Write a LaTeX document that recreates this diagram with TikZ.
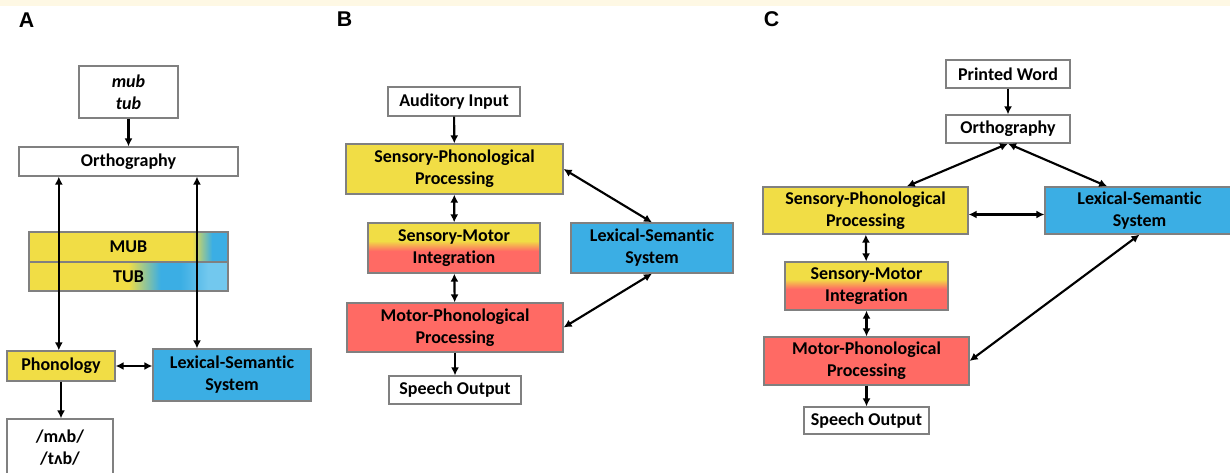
\documentclass[tikz,border=0pt]{standalone}
\usepackage{fontspec}
\setmainfont{Carlito}[Ligatures=NoCommon]
\newfontfamily\panelfont{Liberation Sans}
\usetikzlibrary{arrows.meta,positioning,calc}
\definecolor{BoxYellow}{RGB}{241,221,69}
\definecolor{BoxBlue}{RGB}{59,174,228}
\definecolor{BoxRed}{RGB}{255,106,100}
\definecolor{PaleBlue}{RGB}{114,200,238}
\definecolor{EdgeGray}{RGB}{128,128,128}
\definecolor{StripCream}{RGB}{254,248,228}
\pgfdeclareverticalshading{smiShade}{100bp}{color(0bp)=(BoxRed); color(47bp)=(BoxRed);
  color(57bp)=(BoxYellow); color(100bp)=(BoxYellow)}
\pgfdeclarehorizontalshading{mubShade}{100bp}{color(0bp)=(BoxYellow); color(66bp)=(BoxYellow);
  color(71bp)=(BoxBlue); color(100bp)=(BoxBlue)}
\pgfdeclarehorizontalshading{tubShade}{100bp}{color(0bp)=(BoxYellow); color(50bp)=(BoxYellow);
  color(58bp)=(BoxBlue); color(63bp)=(BoxBlue); color(70bp)=(PaleBlue); color(100bp)=(PaleBlue)}
\tikzset{
  box/.style={draw=EdgeGray,line width=0.9pt,fill=white,inner sep=0pt,align=center,
    font=\fontsize{13.5}{16.5}\selectfont\bfseries},
  yellowbox/.style={box,fill=BoxYellow},
  bluebox/.style={box,fill=BoxBlue},
  redbox/.style={box,fill=BoxRed},
  mixbox/.style={box,shade,shading=smiShade},
  boxsize/.style 2 args={minimum width=#1*0.75pt,minimum height=#2*0.75pt},
  panel/.style={font=\panelfont\bfseries\fontsize{16}{16}\selectfont},
  arrow/.style={-{Latex[length=6pt,width=6pt]},line width=1.6pt},
  dblarrow/.style={{Latex[length=6pt,width=6pt]}-{Latex[length=6pt,width=6pt]},line width=1.6pt}
}

\begin{document}
\begin{tikzpicture}[x=0.75pt,y=-0.75pt]
  \useasboundingbox (0,0) rectangle (1230,473);
  \fill[StripCream] (0,0) rectangle (1230,6);

  % panel A
  \node[panel] (labA) at (26.5,20.5) {A};
  \node[box,boxsize={99}{52}] (wordsA) at (128.5,92) {\textit{mub}\\\textit{tub}};
  \node[box,boxsize={219}{29}] (orthA) at (128.5,161.5) {Orthography};
  \node[box,shade,shading=mubShade,boxsize={199}{30}] (mubA) at (128.5,247) {MUB};
  \node[box,shade,shading=tubShade,boxsize={199}{29}] (tubA) at (128.5,276.5) {TUB};
  \node[yellowbox,boxsize={108}{30}] (phonA) at (61,366) {Phonology};
  \node[bluebox,boxsize={158}{52}] (lexA) at (232,375) {Lexical-Semantic\\System};
  \node[box,boxsize={106}{57}] (ipaA) at (60,447.5) {/mʌb/\\/tʌb/};

  \draw[arrow] (wordsA) -- (orthA);
  \draw[dblarrow] ($(phonA.north west)!0.48!(phonA.north east)$) coordinate (phonTop)
    -- (phonTop |- orthA.south);
  \draw[dblarrow] ($(lexA.north west)!0.28!(lexA.north east)$) coordinate (lexTop)
    -- (lexTop |- orthA.south);
  \draw[dblarrow] (phonA.east) -- (phonA.east -| lexA.west);
  \draw[arrow] (phonA.south) -- (phonA.south |- ipaA.north);

  % panel B
  \node[panel] (labB) at (344.5,19.5) {B};
  \node[box,boxsize={132}{29}] (audB) at (454,101.5) {Auditory Input};
  \node[yellowbox,boxsize={217}{50}] (sppB) at (454.5,169) {Sensory-Phonological\\Processing};
  \node[mixbox,boxsize={172}{50}] (smiB) at (454,248) {Sensory-Motor\\Integration};
  \node[bluebox,boxsize={162}{50}] (lexB) at (652,248) {Lexical-Semantic\\System};
  \node[redbox,boxsize={216}{49}] (mppB) at (455,327.5) {Motor-Phonological\\Processing};
  \node[box,boxsize={132}{28}] (outB) at (455,390) {Speech Output};

  \draw[arrow] (audB) -- (sppB);
  \draw[dblarrow] (sppB) -- (smiB);
  \draw[dblarrow] (smiB) -- (mppB);
  \draw[arrow] (mppB) -- (outB);
  \draw[dblarrow] (sppB.east) -- (lexB.north);
  \draw[dblarrow] (mppB.east) -- (lexB.south);

  % panel C
  \node[panel] (labC) at (771.5,19.5) {C};
  \node[box,boxsize={124}{28}] (printC) at (1008,74) {Printed Word};
  \node[box,boxsize={124}{28}] (orthC) at (1008,129) {Orthography};
  \node[yellowbox,boxsize={205}{47}] (sppC) at (865.5,210.5) {Sensory-Phonological\\Processing};
  \node[bluebox,boxsize={189}{47}] (lexC) at (1139.5,210.5) {Lexical-Semantic\\System};
  \node[mixbox,boxsize={163}{48}] (smiC) at (866.5,286) {Sensory-Motor\\Integration};
  \node[redbox,boxsize={205}{48}] (mppC) at (866.5,361) {Motor-Phonological\\Processing};
  \node[box,boxsize={125}{27}] (outC) at (866.5,420.5) {Speech Output};

  \draw[arrow] (printC) -- (orthC);
  \draw[dblarrow] (orthC.south) -- ($(sppC.north west)!0.7!(sppC.north east)$);
  \draw[dblarrow] (orthC.south) -- ($(lexC.north west)!0.33!(lexC.north east)$);
  \draw[dblarrow] ([yshift=-3pt]sppC.east) -- ([yshift=-3pt]lexC.west);
  \draw[dblarrow] (sppC) -- (smiC);
  \draw[dblarrow] (smiC) -- (mppC);
  \draw[arrow] (mppC) -- (outC);
  \draw[dblarrow] (mppC.east) -- (lexC.south);
\end{tikzpicture}
\end{document}
